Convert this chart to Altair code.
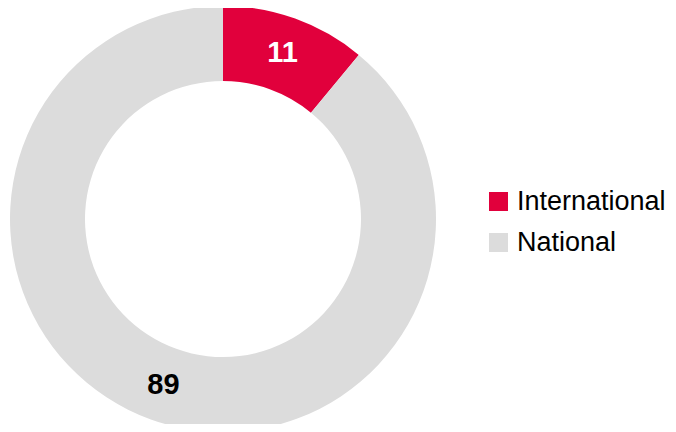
import altair as alt
import pandas as pd

categories = ["International", "National"]
values = [11, 89]
colors = ["#E1003C", "#DCDCDC"]
label_colors = ["white", "black"]

df = pd.DataFrame({"category": categories, "value": values, "order": [0, 1], "lc": label_colors})

cx, cy = 215, 211

base = alt.Chart(df).encode(
    theta=alt.Theta("value:Q", stack=True),
    order=alt.Order("order:Q"),
    x=alt.value(cx),
    y=alt.value(cy),
)

arc = base.mark_arc(outerRadius=213, innerRadius=138, stroke=None).encode(
    color=alt.Color(
        "category:N",
        scale=alt.Scale(domain=categories, range=colors),
        sort=categories,
        legend=alt.Legend(
            title=None,
            orient="none",
            legendX=477,
            legendY=180,
            symbolType="square",
            symbolSize=361,
            symbolStrokeWidth=0,
            labelFont="Liberation Sans",
            labelFontSize=27,
            labelColor="black",
            rowPadding=13,
            labelOffset=5,
            padding=0,
        ),
    )
)

text = base.mark_text(radius=176, font="Liberation Sans", fontSize=29, fontWeight="bold").encode(
    text=alt.Text("value:Q"),
    color=alt.Color("lc:N", scale=None),
)

chart = (arc + text).properties(
    width=660, height=416, autosize="none", padding=0
).configure_view(stroke=None)

chart.save("out.html", embed_options={"renderer": "svg", "actions": False})
